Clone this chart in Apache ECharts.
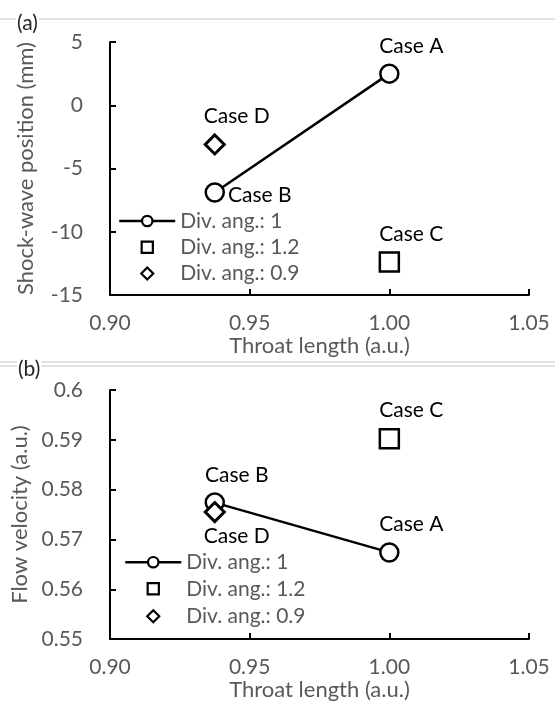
<!DOCTYPE html>
<html>
<head>
<meta charset="utf-8">
<script src="https://cdn.jsdelivr.net/npm/echarts@6/dist/echarts.min.js"></script>
<style>
  html, body { margin: 0; padding: 0; background: #fff; }
  #chart { width: 555px; height: 702px; }
</style>
</head>
<body>
<div id="chart"></div>
<script>
// series names (legend)
const seriesNames = ['Div. ang.: 1', 'Div. ang.: 1.2', 'Div. ang.: 0.9']

// x ticks
const xTicks = [0.90, 0.95, 1.00, 1.05]

// (a) shock-wave position (mm)
const throatAng1 = [0.9375, 1.00]
const shockAng1 = [-6.9, 2.5]
const casesAng1 = ['Case B', 'Case A']
const throatAng12 = [1.00]
const shockAng12 = [-12.4]
const casesAng12 = ['Case C']
const throatAng09 = [0.9375]
const shockAng09 = [-3.1]
const casesAng09 = ['Case D']

// (b) flow velocity (a.u.)
const velAng1 = [0.5774, 0.5674]
const velAng12 = [0.5902]
const velAng09 = [0.5755]

// label placement per case (style only)
const labelPosA = { 'Case A': 'top', 'Case B': 'right', 'Case C': 'top', 'Case D': 'top' }
const labelPosB = { 'Case A': 'top', 'Case B': 'top', 'Case C': 'top', 'Case D': 'bottom' }

const FONT = 'Lato'
const GRAY = '#595959'
const FS = 21

function labelFor(pos) {
  if (pos === 'right') return { position: 'right', distance: 3, offset: [0, 3] }
  if (pos === 'bottom') return { position: 'bottom', distance: 3, offset: [22, 0] }
  return { position: 'top', distance: 7, offset: [22, 0] }
}

function points(xs, ys, names, posMap) {
  return xs.map((x, i) => ({
    value: [x, ys[i]],
    name: names[i],
    label: labelFor(posMap[names[i]])
  }))
}

const caseLabel = {
  show: true,
  formatter: p => p.name,
  color: '#000',
  fontSize: FS,
  fontFamily: FONT
}

// every series is drawn as 'line' so the legend gets line-style icons;
// the single-point ones simply hide their (non-existent) line
function panelSeries(idx, ys1, ys12, ys09, posMap) {
  const common = { type: 'line', xAxisIndex: idx, yAxisIndex: idx, showAllSymbol: true, label: caseLabel }
  return [
    {
      ...common, name: seriesNames[0],
      data: points(throatAng1, ys1, casesAng1, posMap),
      symbol: 'circle', symbolSize: 18,
      itemStyle: { color: '#fff', borderColor: '#000', borderWidth: 2.5 },
      lineStyle: { color: '#000', width: 2.5 }
    },
    {
      ...common, name: seriesNames[1],
      data: points(throatAng12, ys12, casesAng12, posMap),
      symbol: 'rect', symbolSize: 19,
      itemStyle: { color: '#fff', borderColor: '#000', borderWidth: 2.5 },
      lineStyle: { color: '#000', width: 2.5, opacity: 0 }
    },
    {
      ...common, name: seriesNames[2],
      data: points(throatAng09, ys09, casesAng09, posMap),
      symbol: 'diamond', symbolSize: 19,
      itemStyle: { color: '#fff', borderColor: '#000', borderWidth: 3 },
      lineStyle: { color: '#000', width: 2.5, opacity: 0 }
    }
  ]
}

function xAxisFor(idx, gap) {
  return {
    type: 'value', gridIndex: idx,
    min: xTicks[0], max: xTicks[xTicks.length - 1], interval: 0.05,
    name: 'Throat length (a.u.)', nameLocation: 'middle', nameGap: gap,
    nameTextStyle: { color: GRAY, fontSize: 22, fontFamily: FONT },
    axisLine: { onZero: false, lineStyle: { color: '#000', width: 2 } },
    axisTick: { inside: true, length: 6, lineStyle: { color: '#000', width: 2 } },
    axisLabel: { color: GRAY, fontSize: FS, fontFamily: FONT, margin: 18,
      formatter: v => v.toFixed(2) },
    splitLine: { show: false }
  }
}

function yAxisFor(idx, min, max, interval, name) {
  return {
    type: 'value', gridIndex: idx, min, max, interval,
    name, nameLocation: 'middle', nameGap: 73,
    nameTextStyle: { color: GRAY, fontSize: 22, fontFamily: FONT },
    axisLine: { onZero: false, lineStyle: { color: '#000', width: 2 } },
    axisTick: { inside: true, length: 6, lineStyle: { color: '#000', width: 2 } },
    axisLabel: { color: GRAY, fontSize: FS, fontFamily: FONT, margin: 27 },
    splitLine: { show: false }
  }
}

// one legend per row so each icon keeps its own size (symbol = 0.8 * itemHeight)
const iconHeights = [13, 14, 15]
function legendRows(left, centers) {
  return seriesNames.map((n, i) => ({
    data: [n],
    orient: 'vertical',
    left, top: centers[i] - 10,
    padding: 0,
    itemWidth: 56, itemHeight: iconHeights[i],
    itemStyle: { borderWidth: 2.2 },
    lineStyle: { width: 2.5 },
    selectedMode: false,
    textStyle: { color: GRAY, fontSize: FS, fontFamily: FONT }
  }))
}

const chart = echarts.init(document.getElementById('chart'))
chart.setOption({
  animation: false,
  backgroundColor: '#fff',
  grid: [
    { left: 110, top: 42, width: 419, height: 253 },
    { left: 110, top: 390, width: 419, height: 251 }
  ],
  xAxis: [xAxisFor(0, 33), xAxisFor(1, 35)],
  yAxis: [
    yAxisFor(0, -15, 5, 5, 'Shock-wave position (mm)'),
    yAxisFor(1, 0.55, 0.6, 0.01, 'Flow velocity (a.u.)')
  ],
  legend: [
    ...legendRows(118, [220.5, 246.7, 273]),
    ...legendRows(124, [561.7, 588.3, 615.7])
  ],
  graphic: [
    { type: 'line', shape: { x1: 0, y1: 19, x2: 555, y2: 19 }, style: { stroke: '#d9d9d9', lineWidth: 1.5 }, z: -1 },
    { type: 'line', shape: { x1: 0, y1: 362, x2: 555, y2: 362 }, style: { stroke: '#d9d9d9', lineWidth: 1.5 }, z: -1 },
    { type: 'line', shape: { x1: 0, y1: 366, x2: 555, y2: 366 }, style: { stroke: '#d9d9d9', lineWidth: 1.5 }, z: -1 },
    { type: 'text', left: 16, top: 13, z: 5,
      style: { text: '(a)', fill: '#262626', font: '21px Lato', backgroundColor: '#fff', padding: [0, 1] } },
    { type: 'text', left: 17, top: 359, z: 5,
      style: { text: '(b)', fill: '#262626', font: '21px Lato', backgroundColor: '#fff', padding: [0, 1] } }
  ],
  series: [
    ...panelSeries(0, shockAng1, shockAng12, shockAng09, labelPosA),
    ...panelSeries(1, velAng1, velAng12, velAng09, labelPosB)
  ]
})
</script>
</body>
</html>
